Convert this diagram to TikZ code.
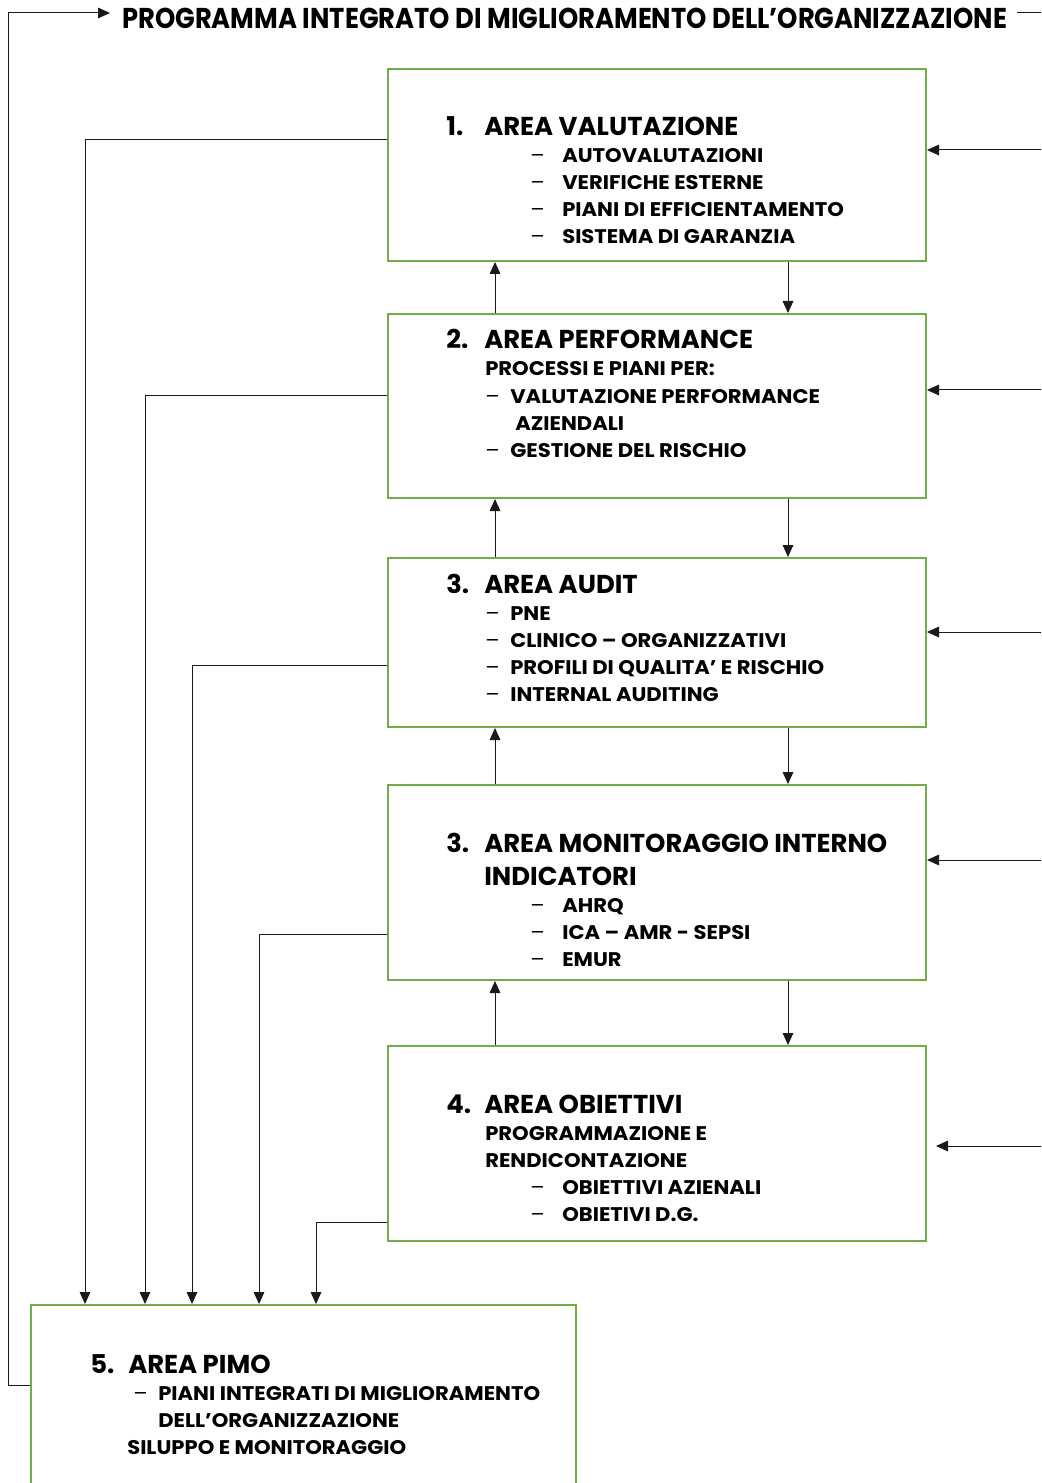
\documentclass[tikz,border=0pt]{standalone}
\usepackage{fontspec}
\setmainfont{Poppins}
\newfontfamily\ttlfont{Poppins}[FakeStretch=0.9]
\newfontfamily\itemfont{Poppins}[FakeStretch=1.07]
\usetikzlibrary{arrows.meta,positioning,calc,fit}
\definecolor{areac}{HTML}{70AD47}
\definecolor{linec}{HTML}{1A1A1A}
\newcommand{\wdash}{\makebox[24pt][l]{\mdseries –}}
\newcommand{\ndash}{\makebox[18.75pt][l]{\mdseries –}}
\newcommand{\hnum}[1]{\makebox[28.5pt][l]{#1}}

\begin{document}
\begin{tikzpicture}[x=0.75pt,y=-0.75pt,
      area/.style={draw=areac,line width=1.5pt,inner sep=0pt},
      conn/.style={draw=linec,line width=0.75pt},
      arr/.style={conn,-{Triangle[length=9pt,width=8pt]}},
      ttl/.style={anchor=base west,inner sep=0pt,font=\fontsize{21.5}{25}\ttlfont\bfseries},
      head/.style={anchor=base west,inner sep=0pt,font=\fontsize{19.4}{22}\selectfont\bfseries},
      item/.style={anchor=base west,inner sep=0pt,font=\fontsize{14.8}{17}\itemfont\bfseries},
    ]
    \useasboundingbox (0,0) rectangle (1041,1483);
    % area boxes
    \foreach \n/\t/\b in {1/69/261,2/314/498,3/558/727,4/785/980,5/1046/1241} {
      \node[area,fit={(388,\t) (926,\b)}] (b\n) {};
    }
    \node[area,fit={(31,1305) (576,1495)}] (pimo) {};
    % title
    \node[ttl] (title) at (122,29) {PROGRAMMA INTEGRATO DI MIGLIORAMENTO DELL’ORGANIZZAZIONE};
    % box 1
    \node[head] (h1) at (446,136) {\hnum{1.}AREA VALUTAZIONE};
    \node[item] (t1a) at (530,163) {\wdash AUTOVALUTAZIONI};
    \node[item] (t1b) at (530,190) {\wdash VERIFICHE ESTERNE};
    \node[item] (t1c) at (530,217) {\wdash PIANI DI EFFICIENTAMENTO};
    \node[item] (t1d) at (530,244) {\wdash SISTEMA DI GARANZIA};
    % box 2
    \node[head] (h2) at (446,349) {\hnum{2.}AREA PERFORMANCE};
    \node[item] (t2a) at (485,376) {PROCESSI E PIANI PER:};
    \node[item] (t2b) at (485,403) {\ndash VALUTAZIONE PERFORMANCE};
    \node[item] (t2c) at (515,430) {AZIENDALI};
    \node[item] (t2d) at (485,457) {\ndash GESTIONE DEL RISCHIO};
    % box 3
    \node[head] (h3) at (446,593) {\hnum{3.}AREA AUDIT};
    \node[item] (t3a) at (485,620) {\ndash PNE};
    \node[item] (t3b) at (485,647) {\ndash CLINICO – ORGANIZZATIVI};
    \node[item] (t3c) at (485,674) {\ndash PROFILI DI QUALITA’ E RISCHIO};
    \node[item] (t3d) at (485,701) {\ndash INTERNAL AUDITING};
    % box 4
    \node[head] (h4) at (446,852) {\hnum{3.}AREA MONITORAGGIO INTERNO};
    \node[head] (h4b) at (484,885) {INDICATORI};
    \node[item] (t4a) at (530,912) {\wdash AHRQ};
    \node[item] (t4b) at (530,939) {\wdash ICA – AMR - SEPSI};
    \node[item] (t4c) at (530,966) {\wdash EMUR};
    % box 5
    \node[head] (h5) at (446,1113) {\hnum{4.}AREA OBIETTIVI};
    \node[item] (t5a) at (485,1140) {PROGRAMMAZIONE E};
    \node[item] (t5b) at (485,1167) {RENDICONTAZIONE};
    \node[item] (t5c) at (530,1194) {\wdash OBIETTIVI AZIENALI};
    \node[item] (t5d) at (530,1221) {\wdash OBIETIVI D.G.};
    % pimo
    \node[head] (h6) at (90,1373) {\hnum{5.}AREA PIMO};
    \node[item] (t6a) at (133,1400) {\ndash PIANI INTEGRATI DI MIGLIORAMENTO};
    \node[item] (t6b) at (158,1427) {DELL’ORGANIZZAZIONE};
    \node[item] (t6c) at (127,1454) {SILUPPO E MONITORAGGIO};
    % arrows between areas
    \coordinate (up) at (495,0);
    \coordinate (dn) at (788,0);
    \foreach \a/\b in {1/2,2/3,3/4,4/5} {
      \draw[arr] (b\b.north -| up) -- (b\a.south -| up);
      \draw[arr] (b\a.south -| dn) -- (b\b.north -| dn);
    }
    % inputs from the right
    \foreach \n/\y in {1/150,2/390,3/632,4/860} {
      \coordinate (in\n) at (1041,\y);
      \draw[arr] (in\n) -- (in\n -| b\n.east);
    }
    \coordinate (in5) at (1041,1146);
    \draw[arr] (in5) -- ([xshift=6.75pt]in5 -| b5.east);
    % feeds into pimo
    \foreach \n/\y/\x in {1/140/85,2/395/145,3/665/192,4/934/259,5/1222/316} {
      \coordinate (l\n) at (\x,\y);
      \draw[arr] (l\n -| b\n.west) -- (l\n) -- (l\n |- pimo.north);
    }
    % loop back to the title
    \coordinate (lp) at (8,1385);
    \coordinate (tin) at (110,13);
    \draw[arr] (lp -| pimo.west) -- (lp) |- (tin);
    \coordinate (to1) at (1017,13);
    \coordinate (to2) at (1041,13);
    \draw[conn] (to1) -- (to2);
  \end{tikzpicture}
\end{document}
